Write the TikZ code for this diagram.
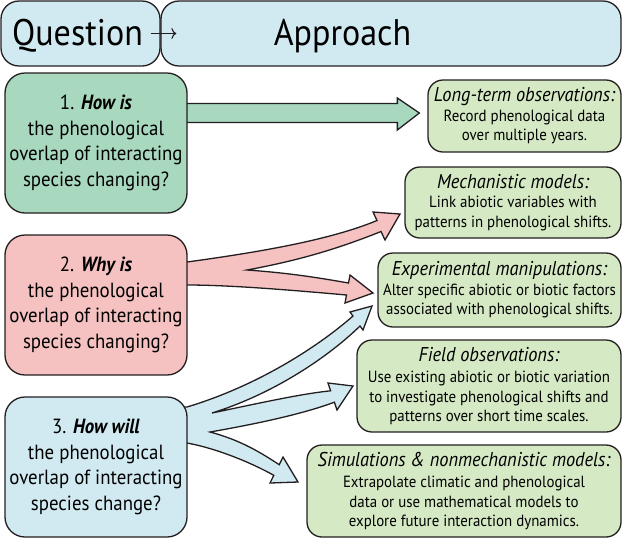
\documentclass[tikz,border=0pt]{standalone}
\usepackage{fontspec}
\setmainfont[FakeStretch=0.92]{PT Sans}
\usepackage{tikz}
\usetikzlibrary{arrows.meta}
\usetikzlibrary{positioning, calc, backgrounds}
\definecolor{outline}{RGB}{35,31,32}
\definecolor{headblue}{RGB}{209,234,241}
\definecolor{qgreen}{RGB}{168,216,190}
\definecolor{qpink}{RGB}{245,193,193}
\definecolor{qblue}{RGB}{209,234,241}
\definecolor{agreen}{RGB}{213,233,196}
\newcommand{\apptitle}[1]{{\fontsize{20}{22}\selectfont\itshape #1}}
\tikzset{
head box/.style = { rectangle, draw = outline, fill = headblue, line width = 1.3pt, rounded corners = 18pt, minimum height = 65pt, inner sep = 0pt },
head label/.style = { anchor = base, inner sep = 0pt, font = \fontsize{37}{40}\selectfont },
question box/.style = { rectangle, draw = outline, line width = 1.3pt, rounded corners = 20pt, minimum width = 182pt, minimum height = 140pt, inner sep = 2pt, align = center, font = \fontsize{20.5}{25.5}\selectfont },
approach box/.style = { rectangle, draw = outline, fill = agreen, line width = 1.3pt, rounded corners = 15pt, inner sep = 2pt, align = center, font = \fontsize{16.2}{19.5}\selectfont },
fat arrow/.style = { draw = outline, line width = 1.3pt, line join = miter },
}

\begin{document}
\begin{tikzpicture}[x=1pt, y=1pt]
      \useasboundingbox (0,0) rectangle (623,-539);
      % header
      \node[head box, minimum width = 159pt] (qhead) at (80.5,-33.5) {};
      \node[head label] (qlabel) at (77.5,-45) {Question};
      \node[head box, minimum width = 460pt] (ahead) at (391,-33.5) {};
      \node[head label] (alabel) at (342.5,-45) {Approach};
      \draw[-{To[length=5pt, width=11pt]}, line width = 1.1pt, outline] ([xshift=-10pt]qhead.east) -- ([xshift=16pt]ahead.west);
      % questions
      \node[question box, fill = qgreen] (q1) at (96,-143) {1. \textbf{\textit{How is}}\\the phenological\\overlap of interacting\\species changing?};
      \node[question box, fill = qpink] (q2) at (96,-305) {2. \textbf{\textit{Why is}}\\the phenological\\overlap of interacting\\species changing?};
      \node[question box, fill = qblue] (q3) at (96,-467) {3. \textbf{\textit{How will}}\\the phenological\\overlap of interacting\\species change?};
      % approaches
      \node[approach box, minimum width = 193pt, minimum height = 72pt] (longterm) at (524.5,-116) {\apptitle{Long-term observations:}\\Record phenological data\\over multiple years.};
      \node[approach box, minimum width = 216pt, minimum height = 71pt] (mech) at (513,-202.5) {\apptitle{Mechanistic models:}\\Link abiotic variables with\\patterns in phenological shifts.};
      \node[approach box, minimum width = 243pt, minimum height = 74pt] (exper) at (499.5,-290) {\apptitle{Experimental manipulations:}\\Alter specific abiotic or biotic factors\\associated with phenological shifts.};
      \node[approach box, minimum width = 264pt, minimum height = 92pt] (field) at (489,-386) {\apptitle{Field observations:}\\[2pt]Use existing abiotic or biotic variation\\to investigate phenological shifts and\\patterns over short time scales.};
      \node[approach box, minimum width = 314pt, minimum height = 92pt] (simul) at (464,-491) {\apptitle{Simulations \& nonmechanistic models:}\\[2pt]Extrapolate climatic and phenological\\data or use mathematical models to\\explore future interaction dynamics.};
      % arrows
      \begin{scope}[on background layer]
        \coordinate (g0) at ([xshift=-7pt, yshift=30pt]q1.east);
        \coordinate (g1) at ([xshift=-8pt, yshift=3pt]longterm.west);
        \filldraw[fat arrow, fill = qgreen] ($(g0)+(0,9.5)$) -- ($(g1)+(-22,9.5)$) -- ($(g1)+(-22,15)$) -- (g1)
          -- ($(g1)+(-22,-17)$) -- ($(g1)+(-22,-9.5)$) -- ($(g0)+(0,-9.5)$) -- cycle;
        % why: two branches
        \filldraw[fat arrow, fill = qpink] (180,-262) -- (187,-262)
          .. controls (260,-252) and (330,-240) .. (377,-220.5)
          -- (373,-212) -- (400,-214) -- (385,-240) -- (381,-231.5)
          .. controls (330,-252) and (290,-262) .. (247,-270)
          .. controls (290,-273) and (320,-278) .. (348.5,-283)
          -- (350,-275) -- (373,-293) -- (345,-303) -- (346.5,-295)
          .. controls (290,-290) and (230,-285) .. (187,-285) -- (180,-285) -- cycle;
        % how will: three branches
        \filldraw[fat arrow, fill = qblue] (180,-407) -- (187,-407)
          .. controls (260,-385) and (320,-345) .. (353,-316)
          -- (350,-312) -- (372,-306) -- (363,-330) -- (360,-326)
          .. controls (325,-360) and (270,-395) .. (212,-413)
          .. controls (260,-403) and (300,-394) .. (330.6,-390.8)
          -- (328,-383) -- (353,-386) -- (337,-410) -- (334.4,-402.2)
          .. controls (300,-415) and (250,-425) .. (210,-432)
          .. controls (240,-440) and (260,-452) .. (279.2,-464.7)
          -- (283,-457) -- (298,-482) -- (270,-483) -- (273.8,-475.3)
          .. controls (250,-462) and (215,-448) .. (187,-443) -- (180,-443) -- cycle;
      \end{scope}
\end{tikzpicture}
\end{document}
